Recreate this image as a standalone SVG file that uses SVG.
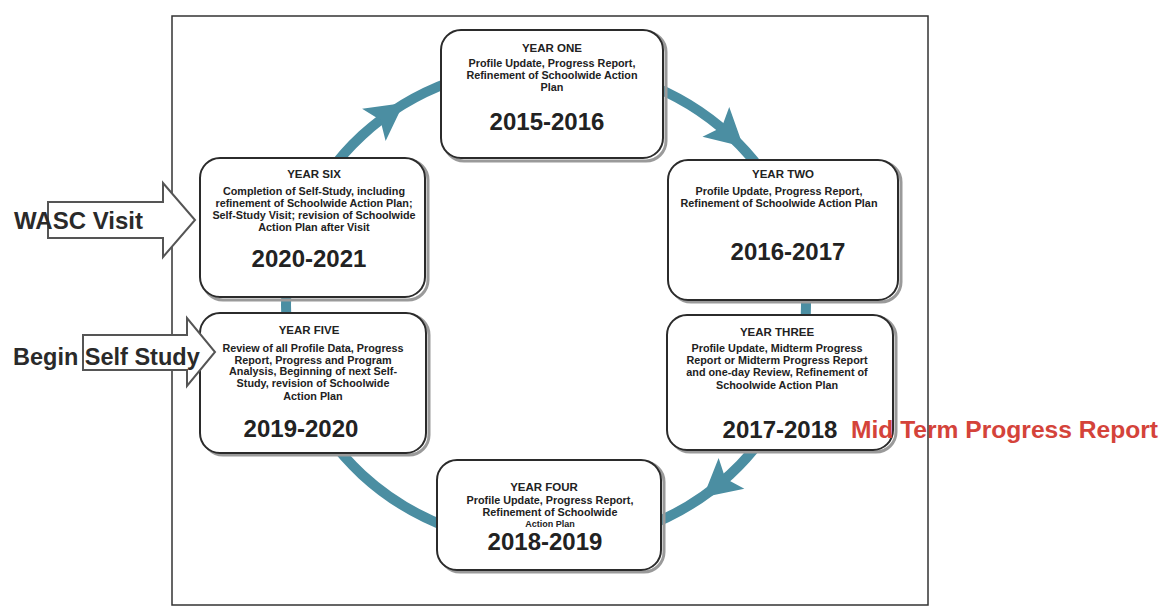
<svg xmlns="http://www.w3.org/2000/svg" xmlns:xlink="http://www.w3.org/1999/xlink" width="1169" height="614" viewBox="0 0 1169 614">
<style>
.box{fill:#fff;stroke:#2b2b2b;stroke-width:2}
.shadow{fill:none;stroke:#9a9a9a;stroke-width:3}
.t{font-family:"Liberation Sans",Arial,sans-serif;font-weight:bold;fill:#222;text-anchor:middle}
.title{font-size:11.5px}
.body{font-size:10.8px}
.year{font-size:24px}
.big{font-family:"Liberation Sans",Arial,sans-serif;font-weight:bold;fill:#2a2a2a}
.blk{fill:#fff;stroke:#555;stroke-width:2}
.ring{fill:none;stroke:#4b8ea2;stroke-width:10}
.ah{fill:#4b8ea2}
</style>
<defs>
<path id="ah" d="M22,0 L-15,-20 L-7,0 L-15,20 Z"/>
</defs>
<rect width="1169" height="614" fill="#fff"/>
<rect x="172" y="16" width="756" height="589" fill="none" stroke="#333" stroke-width="1.5"/>

<g id="connectors">
<ellipse class="ring" cx="546" cy="305" rx="260" ry="240"/>
<use xlink:href="#ah" class="ah" transform="translate(386,116) rotate(-36)"/>
<use xlink:href="#ah" class="ah" transform="translate(727,132) rotate(42)"/>
<use xlink:href="#ah" class="ah" transform="translate(720,483) rotate(140)"/>
</g>

<g id="year-one">
<rect class="shadow" x="444" y="32" width="222" height="129" rx="20"/>
<rect class="box" x="441" y="30" width="222" height="128" rx="20"/>
<text class="t title" x="552" y="52">YEAR ONE</text>
<text class="t body" x="552" y="67">Profile Update, Progress Report,</text>
<text class="t body" x="552" y="79">Refinement of Schoolwide Action</text>
<text class="t body" x="552" y="91">Plan</text>
<text class="t year" x="547" y="130">2015-2016</text>
</g>

<g id="year-two">
<rect class="shadow" x="671" y="162" width="230" height="140" rx="20"/>
<rect class="box" x="668" y="160" width="230" height="140" rx="20"/>
<text class="t title" x="783" y="178">YEAR TWO</text>
<text class="t body" x="779" y="195">Profile Update, Progress Report,</text>
<text class="t body" x="779" y="207">Refinement of Schoolwide Action Plan</text>
<text class="t year" x="788" y="260">2016-2017</text>
</g>

<g id="year-three">
<rect class="shadow" x="670" y="317" width="226" height="135" rx="20"/>
<rect class="box" x="667" y="315" width="226" height="135" rx="20"/>
<text class="t title" x="777" y="336">YEAR THREE</text>
<text class="t body" x="777" y="352">Profile Update, Midterm Progress</text>
<text class="t body" x="777" y="364">Report or Midterm Progress Report</text>
<text class="t body" x="777" y="376">and one-day Review, Refinement of</text>
<text class="t body" x="777" y="389">Schoolwide Action Plan</text>
<text class="t year" x="780" y="438">2017-2018</text>
</g>

<g id="year-four">
<rect class="shadow" x="440" y="462" width="224" height="110" rx="20"/>
<rect class="box" x="437" y="460" width="224" height="110" rx="20"/>
<text class="t title" x="544" y="491">YEAR FOUR</text>
<text class="t body" x="550" y="504">Profile Update, Progress Report,</text>
<text class="t body" x="550" y="516">Refinement of Schoolwide</text>
<text class="t body" x="550" y="527" style="font-size:9px">Action Plan</text>
<text class="t year" x="545" y="550">2018-2019</text>
</g>

<g id="year-five">
<rect class="shadow" x="203" y="315" width="226" height="140" rx="20"/>
<rect class="box" x="200" y="313" width="226" height="140" rx="20"/>
<text class="t title" x="309" y="334">YEAR FIVE</text>
<text class="t body" x="313" y="352">Review of all Profile Data, Progress</text>
<text class="t body" x="313" y="364">Report, Progress and Program</text>
<text class="t body" x="313" y="375">Analysis, Beginning of next Self-</text>
<text class="t body" x="313" y="387">Study, revision of Schoolwide</text>
<text class="t body" x="313" y="400">Action Plan</text>
<text class="t year" x="301" y="437">2019-2020</text>
</g>

<g id="year-six">
<rect class="shadow" x="203" y="160" width="225" height="140" rx="20"/>
<rect class="box" x="200" y="158" width="225" height="139" rx="20"/>
<text class="t title" x="314" y="178">YEAR SIX</text>
<text class="t body" x="314" y="195">Completion of Self-Study, including</text>
<text class="t body" x="314" y="207">refinement of Schoolwide Action Plan;</text>
<text class="t body" x="314" y="219">Self-Study Visit; revision of Schoolwide</text>
<text class="t body" x="314" y="231">Action Plan after Visit</text>
<text class="t year" x="309" y="267">2020-2021</text>
</g>

<g id="wasc-visit">
<path class="blk" d="M48,202 L163,202 L163,183 L195,220 L163,257 L163,238 L48,238 Z"/>
<text class="big" x="14" y="229" font-size="24">WASC Visit</text>
</g>

<g id="begin-self-study">
<path class="blk" d="M83,335 L187,335 L187,318 L215,352 L187,386 L187,370 L83,370 Z"/>
<text class="big" x="13" y="365" font-size="23.5">Begin Self Study</text>
</g>

<g id="midterm-label">
<text x="851" y="438" font-family="Liberation Sans, Arial, sans-serif" font-weight="bold" font-size="24.6" fill="#d4433a">Mid Term Progress Report</text>
</g>
</svg>
